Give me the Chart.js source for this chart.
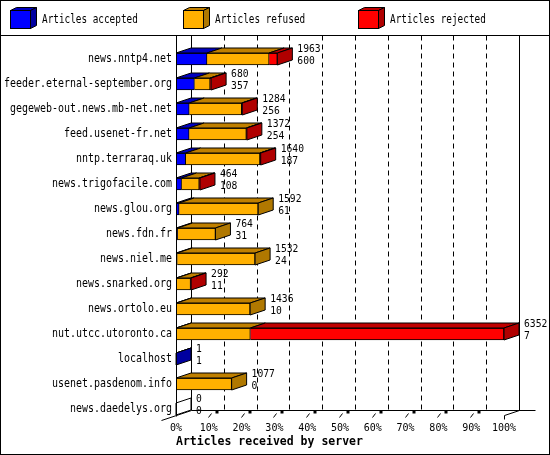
<!DOCTYPE html>
<html>
<head>
<meta charset="utf-8">
<title>Articles received by server</title>
<script src="https://cdn.jsdelivr.net/npm/chart.js@4.4.1/dist/chart.umd.min.js"></script>
<style>
    html, body { margin: 0; padding: 0; background: #fff; }
    canvas { display: block; }
</style>
</head>
<body>
<canvas id="chart" width="550" height="455"></canvas>
<script>
// Data (servers listed top to bottom)
const servers = [
    'news.nntp4.net', 'feeder.eternal-september.org', 'gegeweb-out.news.mb-net.net',
    'feed.usenet-fr.net', 'nntp.terraraq.uk', 'news.trigofacile.com', 'news.glou.org',
    'news.fdn.fr', 'news.niel.me', 'news.snarked.org', 'news.ortolo.eu',
    'nut.utcc.utoronto.ca', 'localhost', 'usenet.pasdenom.info', 'news.daedelys.org'
];
const totals   = [1963, 680, 1284, 1372, 1640, 464, 1592, 764, 1532, 292, 1436, 6352, 1, 1077, 0];
const accepted = [600, 357, 256, 254, 187, 108, 61, 31, 24, 11, 10, 7, 1, 0, 0];
const refused  = [1203, 303, 1016, 1108, 1438, 341, 1531, 733, 1508, 271, 1426, 1433, 0, 1077, 0];
const rejected = [160, 20, 12, 10, 15, 15, 0, 0, 0, 10, 0, 4912, 0, 0, 0];
const percentTicks = ['0%', '10%', '20%', '30%', '40%', '50%', '60%', '70%', '80%', '90%', '100%'];
const seriesNames = ['Articles accepted', 'Articles refused', 'Articles rejected'];
const axisTitle = 'Articles received by server';

// Styles
const FONT = "'DejaVu Sans Mono', 'Liberation Mono', monospace";
const colors = [
    { front: '#0000ff', top: '#0000c0', side: '#0000a0' },
    { front: '#ffb000', top: '#c08000', side: '#b07800' },
    { front: '#ff0000', top: '#c00000', side: '#b00000' }
];
const DX = 15;   // depth offset of the 3D effect
const DY = -5;
const BAR = 12;  // bar thickness

// 100% of the axis is the biggest total
const scaleMax = Math.max(...totals);
const toPercent = arr => arr.map(v => v ? v / scaleMax * 100 : null);
const seriesValues = [accepted, refused, rejected];

// The picture uses a narrow bitmap-like font: squeeze the glyphs sideways
function narrowText(ctx, text, x, y, size, sx, align) {
    ctx.save();
    ctx.font = size + 'px ' + FONT;
    ctx.fillStyle = '#000';
    ctx.textAlign = align;
    ctx.textBaseline = 'middle';
    ctx.translate(x, y);
    ctx.scale(sx, 1);
    ctx.fillText(text, 0, 0);
    ctx.restore();
}

// Back wall, grid and floor, drawn before the bars
function drawBackPlane(chart) {
    const { ctx, chartArea: area, scales: { x, y } } = chart;
    const top = 35.5;
    const floorFront = area.bottom - 6;
    const floorBack = floorFront + DY;
    const left = Math.round(area.left) + 0.5;
    ctx.save();
    ctx.strokeStyle = '#000';
    ctx.lineWidth = 1;

    // dashed gridlines on the back wall
    ctx.setLineDash([5, 4]);
    for (let v = 10; v < 100; v += 10) {
        const bx = Math.round(x.getPixelForValue(v)) + DX + 0.5;
        ctx.beginPath();
        ctx.moveTo(bx, top);
        ctx.lineTo(bx, floorBack);
        ctx.stroke();
    }
    ctx.setLineDash([]);

    const right = Math.round(x.getPixelForValue(100)) + 0.5;
    ctx.beginPath();
    // back left and right walls
    ctx.moveTo(left + DX, top);
    ctx.lineTo(left + DX, floorBack);
    ctx.moveTo(right + DX, top);
    ctx.lineTo(right + DX, floorBack);
    // floor
    ctx.moveTo(left + DX, floorBack);
    ctx.lineTo(right + DX + 16, floorBack);
    ctx.moveTo(left - DX, floorFront - DY);
    ctx.lineTo(left + DX, floorBack);
    ctx.moveTo(right, floorFront);
    ctx.lineTo(right + DX, floorBack);
    ctx.moveTo(right, floorFront);
    ctx.lineTo(right, floorFront + 4);
    ctx.stroke();

    // little perspective ticks along the floor
    ctx.fillStyle = '#000';
    for (let v = 10; v < 100; v += 10) {
        const fx = Math.round(x.getPixelForValue(v)) + 0.5;
        ctx.beginPath();
        ctx.moveTo(fx - 1, floorFront + 2);
        ctx.lineTo(fx + 2, floorFront - 2);
        ctx.stroke();
        ctx.fillRect(fx + 6, floorBack, 3, 3);
    }
    ctx.restore();

    // server names
    servers.forEach((name, i) => {
        narrowText(ctx, name, Math.round(area.left) - 4, y.getPixelForValue(i), 12, 0.83, 'right');
    });
}

function poly(ctx, pts, fill) {
    ctx.beginPath();
    ctx.moveTo(pts[0][0], pts[0][1]);
    for (let i = 1; i < pts.length; i++) ctx.lineTo(pts[i][0], pts[i][1]);
    ctx.closePath();
    if (fill) {
        ctx.fillStyle = fill;
        ctx.fill();
    }
    ctx.stroke();
}

// Top and side faces of the bars, value labels, front axis line
function drawDepth(chart) {
    const { ctx, chartArea: area, scales: { x, y } } = chart;
    const zero = Math.round(x.getPixelForValue(0));
    ctx.save();
    ctx.strokeStyle = '#000';
    ctx.lineWidth = 1;

    servers.forEach((name, i) => {
        const cy = y.getPixelForValue(i);
        const t = cy - BAR / 2;
        const b = cy + BAR / 2;
        let end = zero;
        let lastColor = null;

        seriesValues.forEach((vals, d) => {
            if (!vals[i]) return;
            const el = chart.getDatasetMeta(d).data[i];
            const p = el.getProps(['x', 'base'], true);
            const a = Math.min(p.x, p.base);
            const e = Math.max(p.x, p.base);
            poly(ctx, [[a, t], [e, t], [e + DX, t + DY], [a + DX, t + DY]], colors[d].top);
            end = e;
            lastColor = colors[d].side;
        });

        // right side face (white outline when the server got nothing)
        poly(ctx, [[end, t], [end + DX, t + DY], [end + DX, b + DY], [end, b]], lastColor || '#fff');

        // total and accepted counts
        narrowText(ctx, String(totals[i]), end + DX + 5, cy - 9.5, 11, 0.88, 'left');
        narrowText(ctx, String(accepted[i]), end + DX + 5, cy + 2, 11, 0.88, 'left');
    });

    // front left axis
    ctx.beginPath();
    ctx.moveTo(zero + 0.5, 35.5);
    ctx.lineTo(zero + 0.5, area.bottom - 5);
    ctx.stroke();
    ctx.restore();
}

// Legend with small cubes, separator and frame
function drawFrame(chart) {
    const { ctx, width, height } = chart;
    const legendX = [10, 183, 358];
    ctx.save();
    ctx.strokeStyle = '#000';
    ctx.lineWidth = 1;
    seriesNames.forEach((name, d) => {
        const lx = legendX[d] + 0.5;
        const ly = 10.5;
        poly(ctx, [[lx, ly], [lx + 6, ly - 3], [lx + 26, ly - 3], [lx + 20, ly]], colors[d].top);
        poly(ctx, [[lx + 20, ly], [lx + 26, ly - 3], [lx + 26, ly + 15], [lx + 20, ly + 18]], colors[d].side);
        ctx.fillStyle = colors[d].front;
        ctx.fillRect(lx, ly, 20, 18);
        ctx.strokeRect(lx, ly, 20, 18);
        narrowText(ctx, name, legendX[d] + 32, 20, 12, 0.78, 'left');
    });
    ctx.beginPath();
    ctx.moveTo(0, 35.5);
    ctx.lineTo(width, 35.5);
    ctx.stroke();
    ctx.strokeRect(0.5, 0.5, width - 1, height - 1);
    ctx.restore();
}

const depthPlugin = {
    id: 'depth3d',
    beforeDatasetsDraw: drawBackPlane,
    afterDatasetsDraw: drawDepth,
    afterDraw: drawFrame
};

new Chart(document.getElementById('chart'), {
    type: 'bar',
    data: {
        labels: servers,
        datasets: seriesNames.map((name, d) => ({
            label: name,
            data: toPercent(seriesValues[d]),
            backgroundColor: colors[d].front,
            borderColor: '#000',
            borderWidth: 1,
            borderSkipped: 'start',
            barThickness: BAR
        }))
    },
    options: {
        indexAxis: 'y',
        responsive: false,
        animation: false,
        devicePixelRatio: 1,
        layout: { padding: { top: 46.5, right: 46, bottom: 0, left: 0 } },
        plugins: {
            legend: { display: false },
            tooltip: { enabled: false }
        },
        scales: {
            x: {
                stacked: true,
                min: 0,
                max: 100,
                grid: { display: false, drawTicks: false },
                border: { display: false },
                ticks: {
                    stepSize: 10,
                    padding: 1,
                    color: '#000',
                    font: { family: FONT, size: 10 },
                    maxRotation: 0,
                    callback: (value, index) => percentTicks[index]
                },
                title: {
                    display: true,
                    text: axisTitle,
                    align: 'start',
                    color: '#000',
                    font: { family: FONT, size: 11.5, weight: 'bold' },
                    padding: { top: 0, bottom: 6 }
                },
                afterFit: scale => { scale.height = 33.5; }
            },
            y: {
                stacked: true,
                grid: { display: false, drawTicks: false },
                border: { display: false },
                // names are drawn by the plugin with the narrow font
                ticks: { display: false },
                afterFit: scale => { scale.width = 176; }
            }
        }
    },
    plugins: [depthPlugin]
});
</script>
</body>
</html>
